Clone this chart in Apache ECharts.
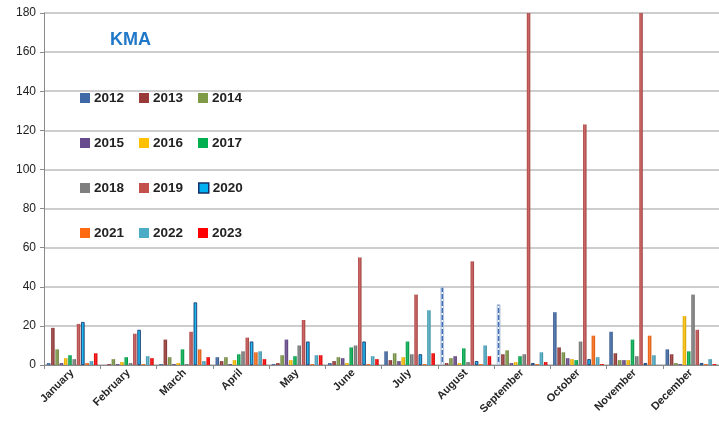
<!DOCTYPE html>
<html>
<head>
<meta charset="utf-8">
<script src="https://cdn.jsdelivr.net/npm/echarts@6/dist/echarts.min.js"></script>
<style>
html,body{margin:0;padding:0;background:#fff;}
#chart{width:719px;height:438px;}
</style>
</head>
<body>
<div id="chart"></div>
<script>
const months = ['January','February','March','April','May','June','July','August','September','October','November','December'];
const years = ['2012','2013','2014','2015','2016','2017','2018','2019','2020','2021','2022','2023'];
const y2012 = [1, 0, 0.5, 4, 0.5, 1, 7, 40, 31, 27, 17, 8];
const y2013 = [19, 0.5, 13, 2, 1, 2, 2.5, 1, 5.5, 9, 6, 5.5];
const y2014 = [8, 3, 4, 4, 5, 4, 6, 3.5, 7.5, 6.5, 2.5, 1];
const y2015 = [1, 0.5, 0.5, 0.5, 13, 3.5, 2, 4.5, 1, 3.5, 2.5, 0.5];
const y2016 = [3.5, 1.5, 1, 2.5, 2.5, 1, 4, 1, 1.5, 3, 2.5, 25];
const y2017 = [5, 4, 8, 5.5, 4.5, 9, 12, 8.5, 4.5, 2.5, 13, 7];
const y2018 = [3, 1, 0.5, 7, 10, 10, 5.5, 1.5, 5.5, 12, 4.5, 36];
const y2019 = [21, 16, 17, 14, 23, 55, 36, 53, 200, 123, 200, 18];
const y2020 = [22, 18, 32, 12, 12, 12, 5.5, 2, 1, 3, 1, 1];
const y2021 = [1, 0.5, 8, 6.5, 0.5, 0.5, 0.5, 0.5, 0.5, 15, 15, 0.5];
const y2022 = [2, 4.5, 2, 7, 5, 4.5, 28, 10, 6.5, 4, 5, 3];
const y2023 = [6, 3.5, 4, 3, 5, 3, 6, 4.5, 1.5, 0.5, 0, 0.5];
// 2012 months drawn with dashed pattern (August, September)
const dashed2012 = ['August', 'September'];
const yTicks = [0, 20, 40, 60, 80, 100, 120, 140, 160, 180];

const values = [y2012,y2013,y2014,y2015,y2016,y2017,y2018,y2019,y2020,y2021,y2022,y2023];
const colors = ['#3F68A6','#9A3A38','#7E9A46','#684A8E','#FFC000','#00B050','#7F7F7F','#C4504E','#00B0F0','#FF6A10','#4BACC6','#FF0000'];

function shade(hex, f){
  const n = parseInt(hex.slice(1),16);
  let r=(n>>16)&255,g=(n>>8)&255,b=n&255;
  const m = v => Math.max(0,Math.min(255,Math.round(f>0? v+(255-v)*f : v*(1+f))));
  return 'rgb('+m(r)+','+m(g)+','+m(b)+')';
}
function grad(hex){
  return {type:'linear',x:0,y:0,x2:1,y2:0,colorStops:[
    {offset:0,color:shade(hex,-0.15)},
    {offset:0.45,color:shade(hex,0.15)},
    {offset:1,color:shade(hex,-0.2)}]};
}

const series = years.map((yr,i)=>{
  const data = values[i].map((v,j)=>{
    if (yr==='2012' && dashed2012.indexOf(months[j])>=0){
      return {value:v,itemStyle:{color:'#f2f5fa',borderColor:'#b9c8df',borderWidth:1,
        decal:{symbol:'rect',color:'#3F6FB8',dashArrayX:[1,0],dashArrayY:[5,2],rotation:0,symbolSize:1}}};
    }
    return v;
  });
  const st = {color: grad(colors[i])};
  if (yr==='2020'){ st.borderColor='#13306a'; st.borderWidth=0.8; }
  return {name:yr,type:'bar',data:data,itemStyle:st,barGap:'22%',barCategoryGap:'10%',clip:true};
});

// legend: 4 rows x 3 columns
const colX = [80, 139, 198];
const rowY = [91, 136, 181, 226];
const legends = years.map((yr,i)=>({
  data:[{name:yr,icon:'rect',itemStyle: yr==='2020'?{color:colors[i],borderColor:'#13306a',borderWidth:1.5}:{color:colors[i]}}],
  left: colX[i%3], top: rowY[Math.floor(i/3)],
  itemWidth:10,itemHeight:10,itemGap:0,padding:0,
  textStyle:{fontSize:13.5,fontWeight:'bold',color:'#222',fontFamily:'Liberation Sans, Arial, sans-serif',lineHeight:13,padding:[1,0,0,-1]},
  selectedMode:false
}));

const chart = echarts.init(document.getElementById('chart'));
chart.setOption({
  animation:false,
  backgroundColor:'#fff',
  title:{text:'KMA',left:105,top:26,textStyle:{fontSize:18,fontWeight:'bold',color:'#1F78C8',fontFamily:'Liberation Sans, Arial, sans-serif'}},
  legend: legends,
  grid:{left:44,top:13,width:678,height:352,containLabel:false},
  xAxis:{type:'category',data:months,
    axisLine:{lineStyle:{color:'#8a8a8a',width:1}},
    axisTick:{show:true,length:4,lineStyle:{color:'#8a8a8a'}},
    axisLabel:{rotate:45,fontSize:11,fontWeight:'bold',color:'#262626',margin:6,interval:0,fontFamily:'Liberation Sans, Arial, sans-serif'},
    splitLine:{show:false}},
  yAxis:{type:'value',min:yTicks[0],max:yTicks[yTicks.length-1],interval:yTicks[1]-yTicks[0],
    axisLine:{show:true,lineStyle:{color:'#8a8a8a',width:1}},
    axisTick:{show:true,length:4,lineStyle:{color:'#8a8a8a'}},
    axisLabel:{fontSize:12,color:'#222',margin:8,fontFamily:'Liberation Sans, Arial, sans-serif'},
    splitLine:{lineStyle:{color:'#bdbdbd',width:1.5}}},
  series:series
});
</script>
</body>
</html>
